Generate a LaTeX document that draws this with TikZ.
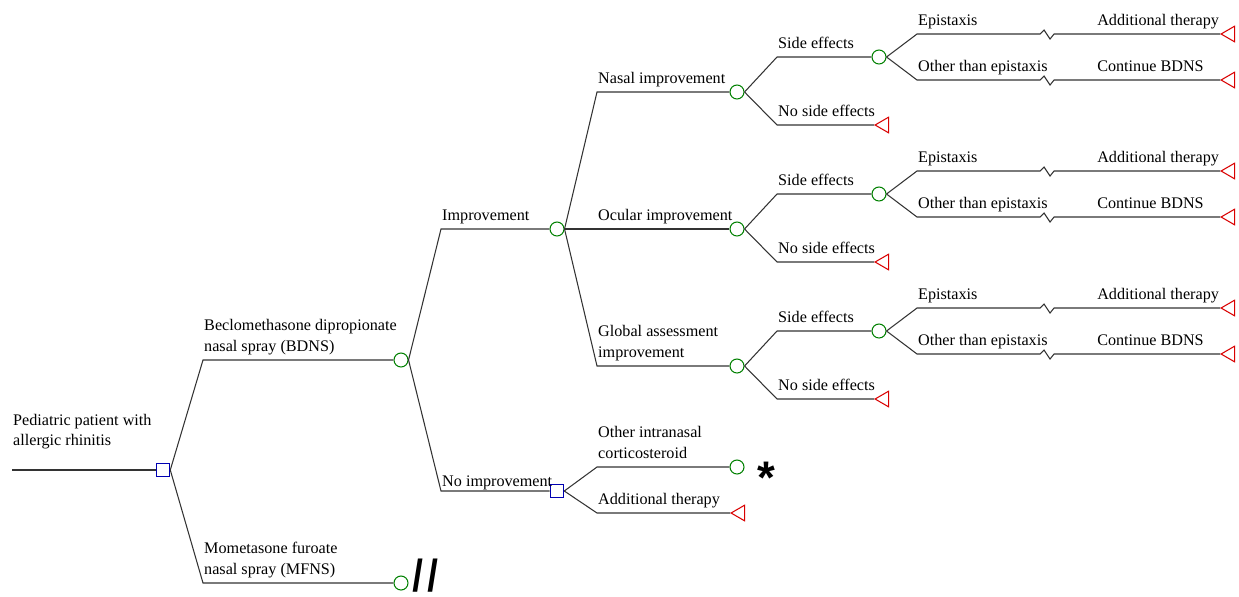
\documentclass[tikz,border=0pt]{standalone}
\usepackage{fontspec}
\setmainfont{Liberation Serif}
\newfontfamily\markfont{DejaVu Sans}
\newfontfamily\starfont{Liberation Sans}
\usetikzlibrary{shapes.geometric, calc}

\tikzset{
  chance/.style = {circle, draw=green!50!black, line width=0.6pt, inner sep=0pt, minimum size=0.28cm},
  decision/.style = {rectangle, draw=blue!70!black, line width=0.6pt, inner sep=0pt, minimum size=0.27cm},
  terminal/.style = {regular polygon, regular polygon sides=3, shape border rotate=90, draw=red!85!black,
    line width=0.6pt, inner sep=0pt, minimum size=0.36cm, anchor=corner 1},
  lbl/.style = {anchor=south west, inner xsep=0.5pt, inner ysep=0pt, text depth=2.5pt, yshift=2pt,
    align=left, font=\fontsize{9.2}{11.9}\selectfont},
  branch/.style = {draw=black!80, line width=0.6pt},
  cut/.style = {to path={-- ($(\tikztostart)!0.406!(\tikztotarget)$) -- ++(4,-4) -- ++(6,9) -- ++(4,-5) -- (\tikztotarget)}},
}

\begin{document}
\begin{tikzpicture}[x=0.02cm, y=-0.02cm]
  \useasboundingbox (0,0) rectangle (1239,596);

  % root decision
  \coordinate (start) at (12,470);
  \node[decision] (root) at (163,470) {};
  \node[lbl, yshift=9pt] (rootl) at (start) {Pediatric patient with\\allergic rhinitis};
  \draw[branch] (start) -- (root.west);

  % treatment options
  \coordinate (bdnsb) at (203,360);
  \coordinate (mfnsb) at (203,583);
  \node[chance] (bdns) at (401,360) {};
  \node[chance] (mfns) at (401,583) {};
  \node[lbl] (bdnsl) at (bdnsb) {Beclomethasone dipropionate\\nasal spray (BDNS)};
  \node[lbl] (mfnsl) at (mfnsb) {Mometasone furoate\\nasal spray (MFNS)};
  \node[font=\markfont\bfseries\fontsize{32}{32}\selectfont, inner sep=0pt, anchor=base,
    yscale=0.72, xslant=-0.12, xscale=0.75] (mfnscut) at (428,588) {//};
  \draw[branch] (root.east) -- (bdnsb) -- (bdns.west);
  \draw[branch] (root.east) -- (mfnsb) -- (mfns.west);

  % response to BDNS
  \coordinate (impb) at (441,229);
  \coordinate (noimpb) at (441,491);
  \node[chance] (imp) at (557,229) {};
  \node[decision] (noimp) at (557,491) {};
  \node[lbl] (impl) at (impb) {Improvement};
  \node[lbl, yshift=-2pt] (noimpl) at (noimpb) {No improvement};
  \draw[branch] (bdns.east) -- (impb) -- (imp.west);
  \draw[branch] (bdns.east) -- (noimpb) -- (noimp.west);

  % kind of improvement
  \coordinate (nasb) at (597,92);
  \coordinate (ocub) at (597,229);
  \coordinate (glob) at (597,366);
  \node[chance] (nas) at (737,92) {};
  \node[chance] (ocu) at (737,229) {};
  \node[chance] (glo) at (737,366) {};
  \node[lbl] (nasl) at (nasb) {Nasal improvement};
  \node[lbl] (ocul) at (ocub) {Ocular improvement};
  \node[lbl] (glol) at (glob) {Global assessment\\improvement};
  \draw[branch] (imp.east) -- (nasb) -- (nas.west);
  \draw[branch] (imp.east) -- (ocub) -- (ocu.west);
  \draw[branch] (imp.east) -- (glob) -- (glo.west);

  % no improvement
  \coordinate (icsb) at (597,467);
  \coordinate (addtb) at (597,513);
  \node[chance] (ics) at (737,467) {};
  \node[terminal] (addt) at (730,513) {};
  \node[lbl] (icsl) at (icsb) {Other intranasal\\corticosteroid};
  \node[lbl] (addtl) at (addtb) {Additional therapy};
  \node[font=\starfont\bfseries\fontsize{26}{26}\selectfont, inner sep=0pt, anchor=base] (icsstar) at (766,493) {*};
  \draw[branch] (noimp.east) -- (icsb) -- (ics.west);
  \draw[branch] (noimp.east) -- (addtb) -- (addt.corner 1);

  % nasal improvement
  \coordinate (nasseb) at (777,57);
  \coordinate (nasnseb) at (777,125);
  \node[chance] (nasse) at (879,57) {};
  \node[terminal] (nasnse) at (874,125) {};
  \node[lbl] (nassel) at (nasseb) {Side effects};
  \node[lbl] (nasnsel) at (nasnseb) {No side effects};
  \draw[branch] (nas.east) -- (nasseb) -- (nasse.west);
  \draw[branch] (nas.east) -- (nasnseb) -- (nasnse.corner 1);
  \coordinate (nasepib) at (917,34);
  \coordinate (nasothb) at (917,80);
  \node[terminal] (nasepi) at (1220,34) {};
  \node[terminal] (nasoth) at (1220,80) {};
  \node[lbl] (nasepil) at (nasepib) {Epistaxis};
  \node[lbl] (nasothl) at (nasothb) {Other than epistaxis};
  \node[lbl] (nasepir) at (1096,34) {Additional therapy};
  \node[lbl] (nasothr) at (1096,80) {Continue BDNS};
  \draw[branch] (nasse.east) -- (nasepib) to[cut] (nasepi.corner 1);
  \draw[branch] (nasse.east) -- (nasothb) to[cut] (nasoth.corner 1);

  % ocular improvement
  \coordinate (ocuseb) at (777,194);
  \coordinate (ocunseb) at (777,262);
  \node[chance] (ocuse) at (879,194) {};
  \node[terminal] (ocunse) at (874,262) {};
  \node[lbl] (ocusel) at (ocuseb) {Side effects};
  \node[lbl] (ocunsel) at (ocunseb) {No side effects};
  \draw[branch] (ocu.east) -- (ocuseb) -- (ocuse.west);
  \draw[branch] (ocu.east) -- (ocunseb) -- (ocunse.corner 1);
  \coordinate (ocuepib) at (917,171);
  \coordinate (ocuothb) at (917,217);
  \node[terminal] (ocuepi) at (1220,171) {};
  \node[terminal] (ocuoth) at (1220,217) {};
  \node[lbl] (ocuepil) at (ocuepib) {Epistaxis};
  \node[lbl] (ocuothl) at (ocuothb) {Other than epistaxis};
  \node[lbl] (ocuepir) at (1096,171) {Additional therapy};
  \node[lbl] (ocuothr) at (1096,217) {Continue BDNS};
  \draw[branch] (ocuse.east) -- (ocuepib) to[cut] (ocuepi.corner 1);
  \draw[branch] (ocuse.east) -- (ocuothb) to[cut] (ocuoth.corner 1);

  % global assessment improvement
  \coordinate (gloseb) at (777,331);
  \coordinate (glonseb) at (777,399);
  \node[chance] (glose) at (879,331) {};
  \node[terminal] (glonse) at (874,399) {};
  \node[lbl] (glosel) at (gloseb) {Side effects};
  \node[lbl] (glonsel) at (glonseb) {No side effects};
  \draw[branch] (glo.east) -- (gloseb) -- (glose.west);
  \draw[branch] (glo.east) -- (glonseb) -- (glonse.corner 1);
  \coordinate (gloepib) at (917,308);
  \coordinate (glootheb) at (917,354);
  \node[terminal] (gloepi) at (1220,308) {};
  \node[terminal] (glooth) at (1220,354) {};
  \node[lbl] (gloepil) at (gloepib) {Epistaxis};
  \node[lbl] (gloothl) at (glootheb) {Other than epistaxis};
  \node[lbl] (gloepir) at (1096,308) {Additional therapy};
  \node[lbl] (gloothr) at (1096,354) {Continue BDNS};
  \draw[branch] (glose.east) -- (gloepib) to[cut] (gloepi.corner 1);
  \draw[branch] (glose.east) -- (glootheb) to[cut] (glooth.corner 1);
\end{tikzpicture}
\end{document}
